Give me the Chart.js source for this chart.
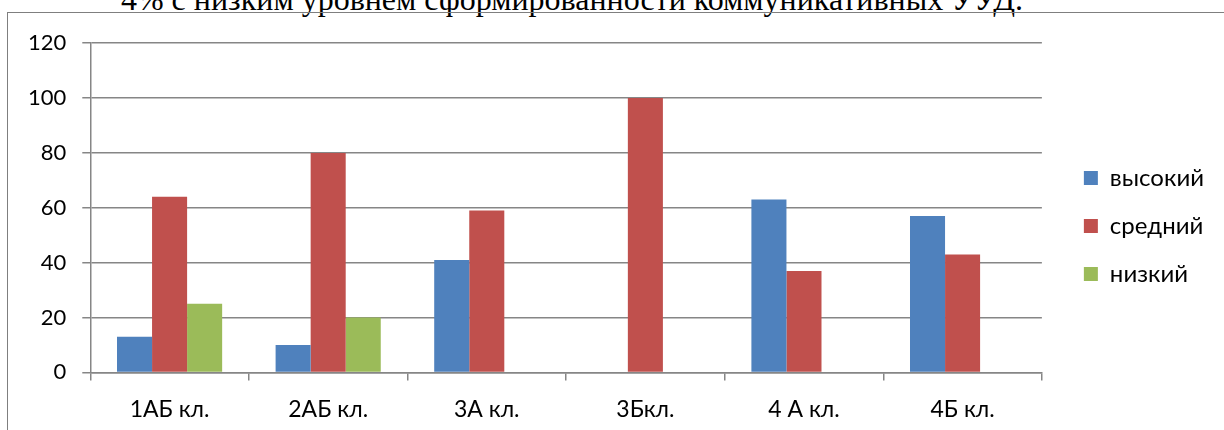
<!DOCTYPE html>
<html>
<head>
<meta charset="utf-8">
<script src="https://cdn.jsdelivr.net/npm/chart.js@4.4.1/dist/chart.umd.min.js"></script>
<style>
  html, body { margin: 0; padding: 0; background: #fff; overflow: hidden; }
  body { width: 1224px; height: 430px; position: relative; }
  #caption {
    position: absolute; left: 0; width: 1144px; top: -17px;
    text-align: center; white-space: nowrap;
    font-family: "Liberation Serif", serif; font-size: 32px; line-height: 32px; color: #000;
  }
  #frame {
    position: absolute; left: 7px; top: 12px; width: 1260px; height: 460px;
    border: 1px solid #7f7f7f; box-sizing: border-box;
  }
  #myChart { position: absolute; left: 9px; top: 14px; }
</style>
</head>
<body>
<div id="caption">4% с низким уровнем сформированности коммуникативных УУД.</div>
<div id="frame"></div>
<canvas id="myChart" width="1215" height="424"></canvas>
<script>
// chart data
const classes = ["1АБ кл.", "2АБ кл.", "3А кл.", "3Бкл.", "4 А кл.", "4Б кл."];
const highLevel = [13, 10, 41, 0, 63, 57];
const midLevel = [64, 80, 59, 100, 37, 43];
const lowLevel = [25, 20, 0, 0, 0, 0];
const yTicks = [0, 20, 40, 60, 80, 100, 120];

const gridGray = '#868686';

var ctx = document.getElementById('myChart').getContext('2d');
var chart = new Chart(ctx, {
    type: 'bar',
    data: {
        labels: classes,
        datasets: [
            { label: 'высокий', data: highLevel, backgroundColor: '#4F81BD' },
            { label: 'средний', data: midLevel, backgroundColor: '#C0504D' },
            { label: 'низкий', data: lowLevel, backgroundColor: '#9BBB59' }
        ]
    },
    options: {
        responsive: false,
        animation: false,
        devicePixelRatio: 1,
        datasets: {
            bar: { barPercentage: 1, categoryPercentage: 0.663 }
        },
        layout: {
            padding: { left: 3, top: 0, bottom: 0, right: 10 }
        },
        scales: {
            y: {
                min: yTicks[0],
                max: yTicks[yTicks.length - 1],
                afterBuildTicks: function(axis) {
                    axis.ticks = yTicks.map(v => ({ value: v }));
                },
                ticks: { color: '#000', font: { family: 'Lato', size: 22 }, padding: 16 },
                grid: { color: gridGray, tickLength: 8, lineWidth: 1.5 },
                border: { color: gridGray, width: 1.5 }
            },
            x: {
                ticks: { color: '#000', font: { family: 'Lato', size: 23 }, padding: 15 },
                grid: { offset: true, drawOnChartArea: false, color: gridGray, tickLength: 8, lineWidth: 1.5 },
                border: { color: gridGray, width: 1.5 }
            },
            // empty axis, only keeps a gap between the plot and the legend
            gap: {
                position: 'right',
                grid: { display: false, drawTicks: false },
                border: { display: false },
                ticks: { display: false },
                afterFit: function(scale) { scale.width = 18; }
            }
        },
        plugins: {
            legend: {
                position: 'right',
                labels: { color: '#000', font: { family: 'Lato', size: 24 }, boxWidth: 14, boxHeight: 14, padding: 24 }
            },
            tooltip: { enabled: false }
        }
    }
});
</script>
</body>
</html>
